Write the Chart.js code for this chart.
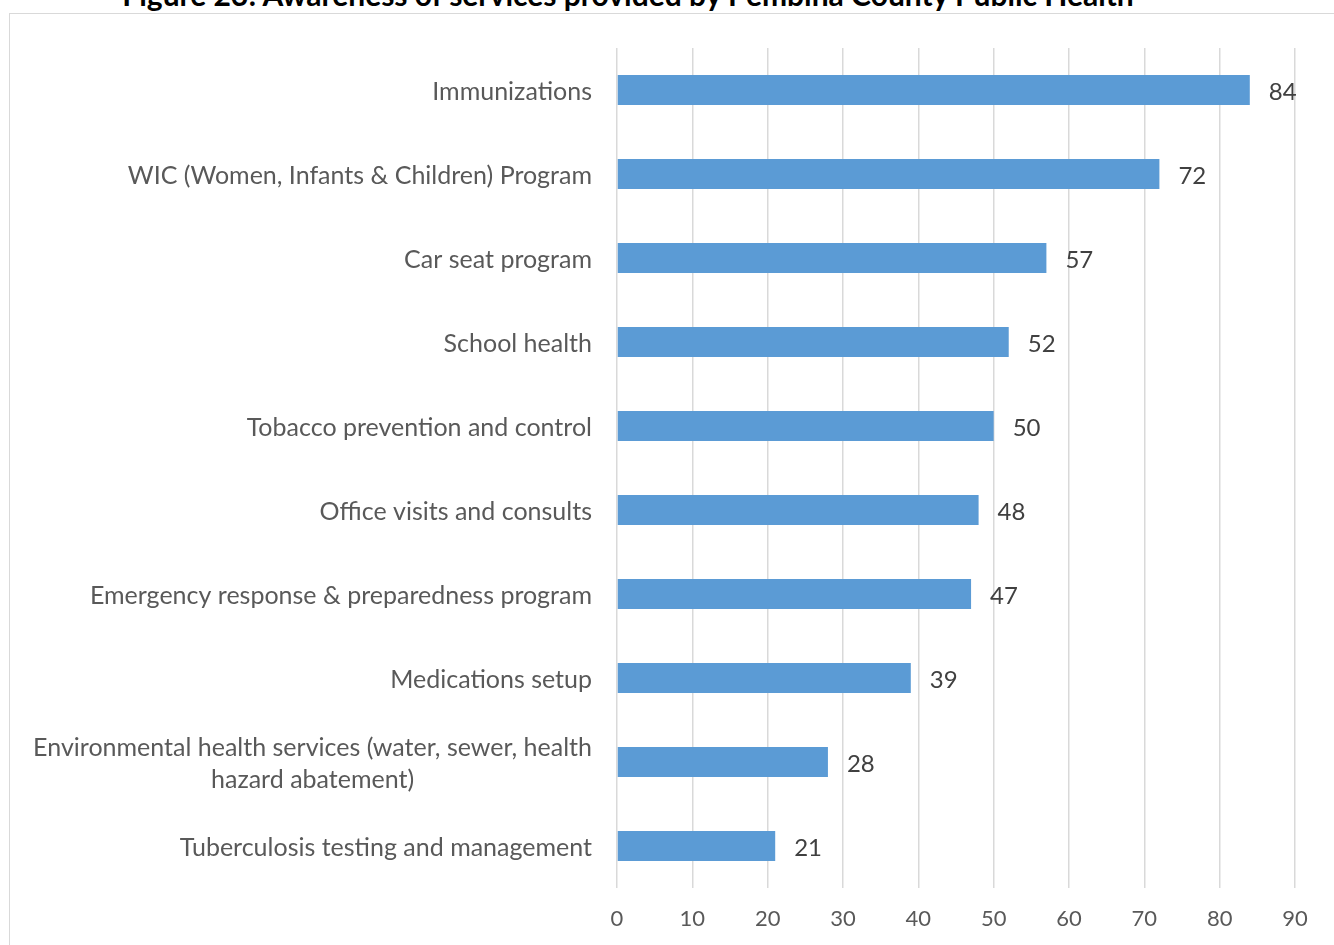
<!DOCTYPE html>
<html>
<head>
<meta charset="utf-8">
<script src="https://cdn.jsdelivr.net/npm/chart.js@4"></script>
<style>
  html, body { margin: 0; padding: 0; background: #fff; overflow: hidden; }
  body { width: 1334px; height: 945px; position: relative; }
  #titulo {
    position: absolute; left: 0; width: 1256px; top: -21px;
    text-align: center; font: bold 30px Lato, sans-serif; color: #000;
    line-height: 30px; white-space: nowrap;
  }
  #moldura {
    position: absolute; left: 9px; top: 13px; width: 1400px; height: 1000px;
    border: 1px solid #d9d9d9;
  }
  #area { position: absolute; left: 10px; top: 14px; width: 1324px; height: 931px; }
</style>
</head>
<body>
<div id="titulo">Figure 23: Awareness of services provided by Pembina County Public Health</div>
<div id="moldura"></div>
<div id="area"><canvas id="graficoServicos"></canvas></div>
<script>
var servicos = [
	'Immunizations',
	'WIC (Women, Infants & Children) Program',
	'Car seat program',
	'School health',
	'Tobacco prevention and control',
	'Office visits and consults',
	'Emergency response & preparedness program',
	'Medications setup',
	['Environmental health services (water, sewer, health', 'hazard abatement)'],
	'Tuberculosis testing and management'
];
var respostas = [84, 72, 57, 52, 50, 48, 47, 39, 28, 21];
var eixoMax = 90;
var eixoPasso = 10;

var fonte = 'Lato, sans-serif';

// desenha os rotulos das categorias (linhas centradas entre si) e os valores
var rotulosPlugin = {
	id: 'rotulos',
	afterDatasetsDraw: function(chart) {
		var ctx = chart.ctx;
		var y = chart.scales.y;
		var meta = chart.getDatasetMeta(0);
		ctx.save();
		ctx.font = '25px ' + fonte;
		ctx.textBaseline = 'middle';
		ctx.fillStyle = '#595959';
		servicos.forEach(function(rotulo, i) {
			var linhas = Array.isArray(rotulo) ? rotulo : [rotulo];
			var larg = 0;
			linhas.forEach(function(l) { larg = Math.max(larg, ctx.measureText(l).width); });
			var direita = chart.chartArea.left - 25;
			var centro = direita - larg / 2;
			var cy = y.getPixelForValue(i) + 2;
			var alt = 32;
			ctx.textAlign = 'center';
			linhas.forEach(function(l, k) {
				ctx.fillText(l, centro, cy + (k - (linhas.length - 1) / 2) * alt);
			});
		});
		ctx.fillStyle = '#404040';
		ctx.font = '24px ' + fonte;
		ctx.textAlign = 'left';
		meta.data.forEach(function(barra, i) {
			ctx.fillText(String(respostas[i]), barra.x + 19, barra.y + 2);
		});
		ctx.restore();
	}
};

new Chart(document.getElementById('graficoServicos').getContext('2d'), {
	type: 'bar',
	data: {
		labels: servicos,
		datasets: [{
			data: respostas,
			backgroundColor: '#5b9bd5',
			barPercentage: 0.357,
			categoryPercentage: 1
		}]
	},
	options: {
		indexAxis: 'y',
		responsive: true,
		maintainAspectRatio: false,
		animation: false,
		layout: { padding: { top: 34, right: 39, left: 0, bottom: 0 } },
		plugins: { legend: { display: false }, tooltip: { enabled: false } },
		scales: {
			x: {
				min: 0, max: eixoMax,
				ticks: { stepSize: eixoPasso, color: '#595959', font: { family: fonte, size: 22 }, padding: 18 },
				grid: { color: '#d9d9d9', lineWidth: 1.5, drawTicks: false },
				border: { display: false },
				afterFit: function(s) { s.height = 57; }
			},
			y: {
				ticks: { display: false },
				grid: { display: false },
				border: { display: false },
				afterFit: function(s) { s.width = 607; }
			}
		}
	},
	plugins: [rotulosPlugin]
});
</script>
</body>
</html>
